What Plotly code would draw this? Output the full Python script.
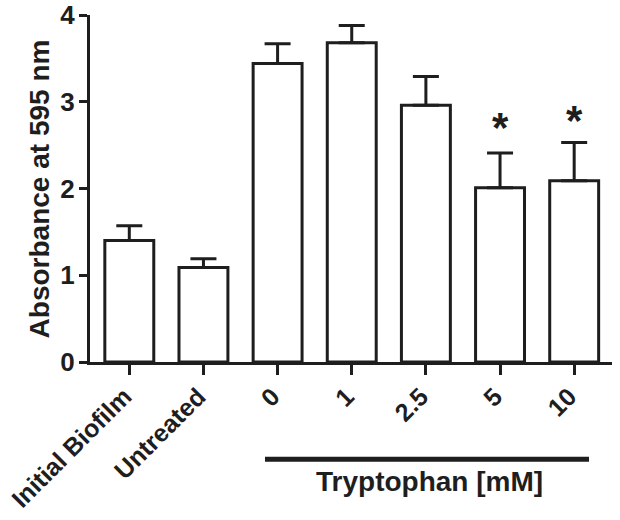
import plotly.graph_objects as go

categories = ["Initial Biofilm", "Untreated", "0", "1", "2.5", "5", "10"]
means = [1.40, 1.09, 3.44, 3.68, 2.96, 2.01, 2.09]
sem = [0.17, 0.10, 0.23, 0.20, 0.33, 0.40, 0.44]
significant = [False, False, False, False, False, True, True]
star_y = [None, None, None, None, None, 2.78, 2.87]
y_ticks = [0, 1, 2, 3, 4]
group_label = "Tryptophan [mM]"
y_title = "Absorbance at 595 nm"

FONT = "Arial, Liberation Sans, sans-serif"
INK = "#1e1e1e"
xpos = list(range(len(categories)))

fig = go.Figure()
fig.add_trace(go.Bar(
    x=xpos, y=means, width=0.66,
    marker=dict(color="white", line=dict(color=INK, width=3)),
    error_y=dict(type="data", array=sem, arrayminus=[0]*len(sem), symmetric=False,
                 color=INK, thickness=3, width=13),
    showlegend=False, hoverinfo="skip",
))

annotations = []
for i, s in enumerate(significant):
    if s:
        annotations.append(dict(x=xpos[i], y=star_y[i], xref="x", yref="y", text="<b>*</b>",
                                showarrow=False, font=dict(family=FONT, size=42, color=INK),
                                yanchor="middle", yshift=-7))

annotations.append(dict(x=4.05, y=-0.345, xref="x", yref="paper", text="<b>" + group_label + "</b>",
                        showarrow=False, font=dict(family=FONT, size=28, color=INK),
                        xanchor="center", yanchor="middle"))
annotations.append(dict(x=-0.096, y=0.5, xref="paper", yref="paper", text="<b>" + y_title + "</b>",
                        showarrow=False, textangle=-90, font=dict(family=FONT, size=28, color=INK),
                        xanchor="center", yanchor="middle"))

fig.update_layout(
    width=620, height=520,
    margin=dict(l=90, r=8, t=15, b=158, autoexpand=False),
    plot_bgcolor="white", paper_bgcolor="white",
    annotations=annotations,
    shapes=[dict(type="line", xref="x", yref="paper", x0=1.83, x1=6.2, y0=-0.28, y1=-0.28,
                 line=dict(color=INK, width=5))],
    font=dict(family=FONT, color=INK),
)
fig.update_xaxes(
    range=[-0.53, 6.51], tickvals=xpos, ticktext=["<b>%s</b>" % c for c in categories],
    tickangle=-45, ticks="outside", ticklen=10, tickwidth=3, tickcolor=INK,
    showline=True, linecolor=INK, linewidth=3, showgrid=False, zeroline=False,
    tickfont=dict(family=FONT, size=25, color=INK), automargin=False,
    ticklabelshift=-5, ticklabelstandoff=-3,
)
fig.update_yaxes(
    range=[0, 4], tickvals=y_ticks, ticktext=["<b>%d</b>" % v for v in y_ticks],
    ticks="outside", ticklen=8, tickwidth=3, tickcolor=INK,
    showline=True, linecolor=INK, linewidth=3, showgrid=False, zeroline=False,
    tickfont=dict(family=FONT, size=26, color=INK), automargin=False,
    ticklabelstandoff=-1,
)

fig.write_html("out.html", config={"displayModeBar": False},
               post_script="document.body.style.margin='0';document.body.style.overflow='hidden';")
